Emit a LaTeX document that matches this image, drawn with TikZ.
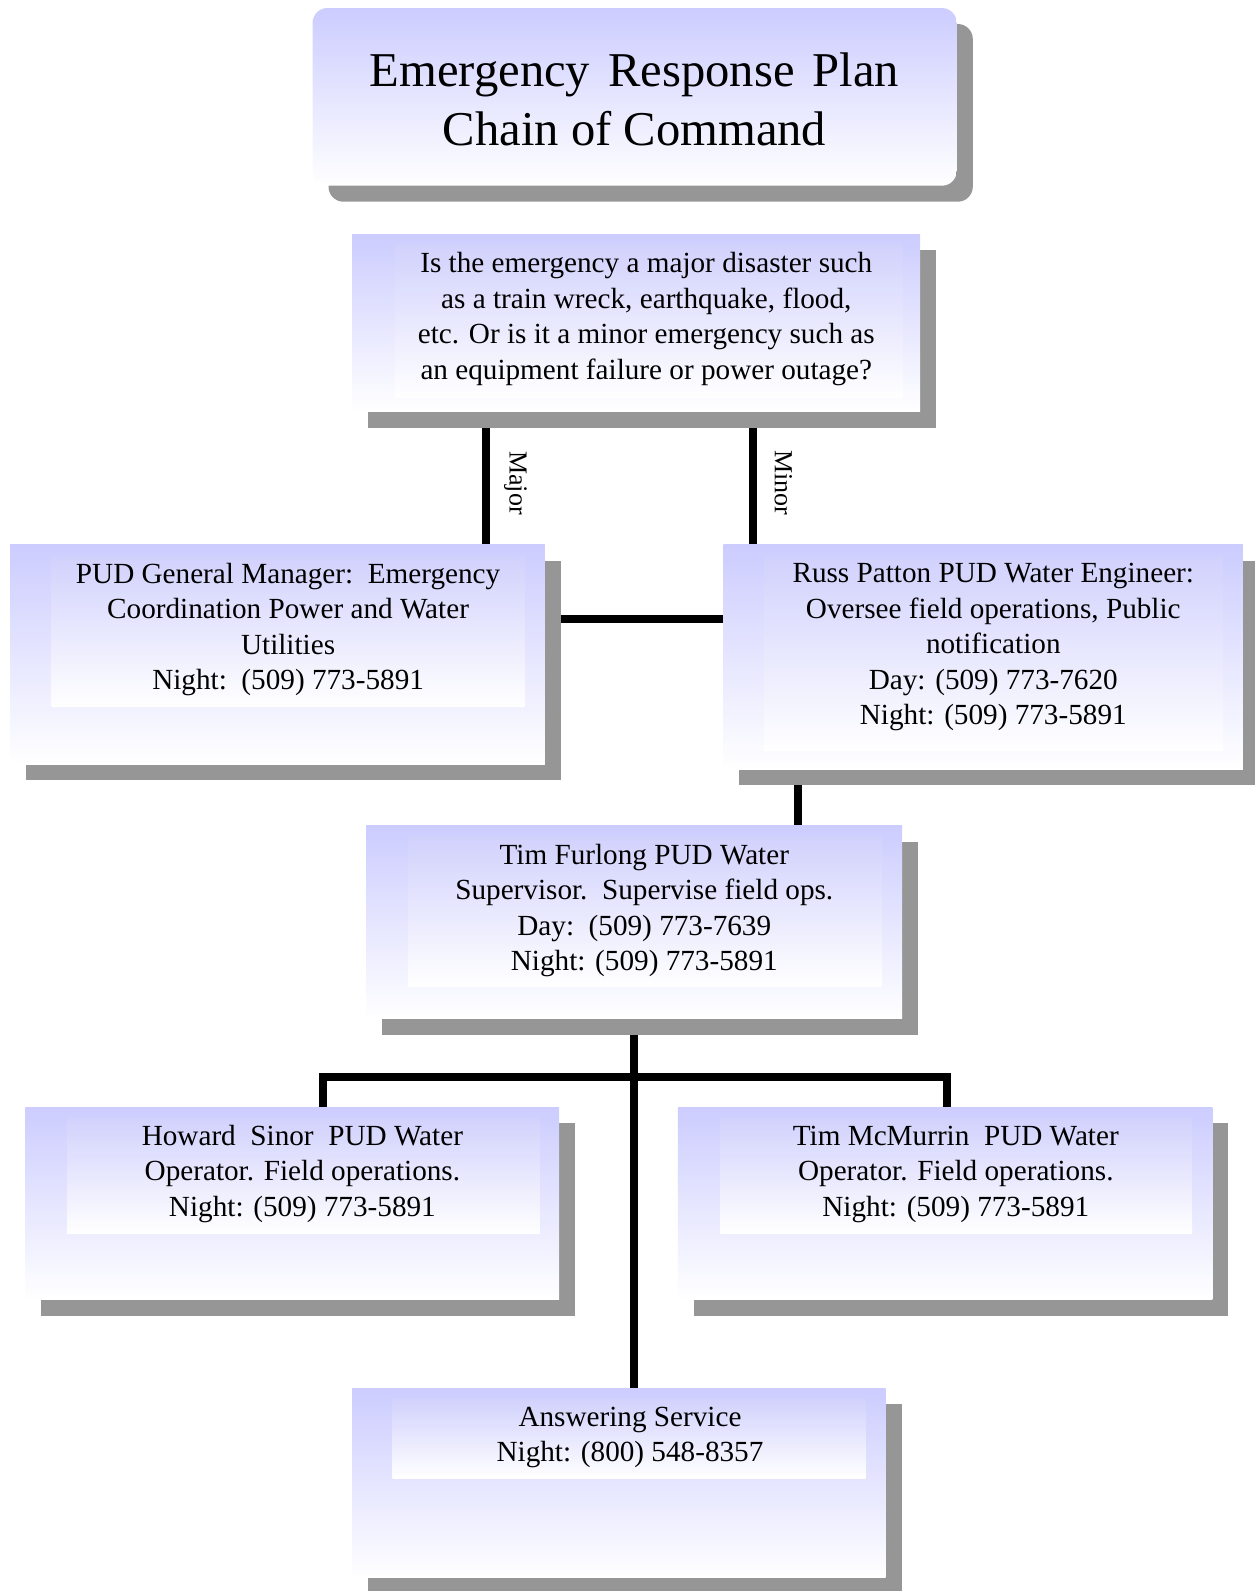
\documentclass[tikz,border=0pt]{standalone}
\usepackage{fontspec}
\setmainfont{Liberation Serif}
\usetikzlibrary{fit}
\definecolor{lav}{RGB}{204,204,255}
\definecolor{lavin}{RGB}{209,209,253}
\definecolor{shd}{RGB}{150,150,150}
\pgfdeclarelayer{bg}\pgfdeclarelayer{sh}\pgfsetlayers{bg,sh,main}
\begin{document}
\begin{tikzpicture}[x=0.5pt,y=-0.5pt,
  box/.style={inner sep=0pt, outer sep=0pt, draw=none, top color=lav, bottom color=white},
  inbox/.style={inner sep=0pt, outer sep=0pt, draw=none, top color=lavin, bottom color=white},
  txt/.style={inner sep=0pt, align=center, font=\fontsize{14.6}{17.75}\selectfont},
  lbl/.style={inner sep=0pt, rotate=-90, font=\fontsize{13}{15}\selectfont},
  conn/.style={line width=4pt, draw=black, line join=miter},
  shadowfill/.style={fill=shd, draw=none}]
\useasboundingbox (0,0) rectangle (1254,1591);

% title
\node[box, rounded corners=7.5pt, fit={(312.5,8) (956.8,185.7)}] (title) {};
\node[inner sep=0pt, align=center, font=\fontsize{24.3}{29.4}\selectfont] (titlet) at (634.5,99)
  {Emergency\hspace{3pt} Response\hspace{3pt} Plan\\Chain of Command};

% question
\node[box, fit={(352,234.4) (920.2,411.9)}] (q) {};
\node[inbox, fit={(395.7,243.5) (903,397.7)}] (qi) {};
\node[txt] (qt) at (646.3,319) {Is the emergency a major disaster such\\as a train wreck, earthquake, flood,\\etc. Or is it a minor emergency such as\\an equipment failure or power outage?};

% general manager
\node[box, fit={(10.1,544.8) (544.8,764)}] (gm) {};
\node[inbox, fit={(51.7,556) (524.5,706.2)}] (gmi) {};
\node[txt] (gmt) at (288.1,629.5) {PUD General Manager:\ \ Emergency\\Coordination Power and Water\\Utilities\\Night:\ \ (509) 773-5891};

% Russ Patton
\node[box, fit={(723.4,544.8) (1242.9,769)}] (rus) {};
\node[inbox, fit={(764,556) (1222.6,750.8)}] (rusi) {};
\node[txt] (rust) at (993.3,647.3) {Russ Patton PUD Water Engineer:\\Oversee field operations, Public\\notification\\Day: (509) 773-7620\\Night: (509) 773-5891};

% Tim Furlong
\node[box, fit={(366.3,825.9) (902,1018.7)}] (tim) {};
\node[inbox, fit={(407.9,836) (881.7,986.2)}] (timi) {};
\node[txt] (timt) at (644.3,910.5) {Tim Furlong PUD Water\\Supervisor.\ \ Supervise field ops.\\Day:\ \ (509) 773-7639\\Night: (509) 773-5891};

% Howard Sinor
\node[box, fit={(25.4,1107) (559,1299.7)}] (how) {};
\node[inbox, fit={(67,1117) (539.8,1233.8)}] (howi) {};
\node[txt] (howt) at (302.4,1174) {Howard\ \ Sinor\ \ PUD Water\\Operator. Field operations.\\Night: (509) 773-5891};

% Tim McMurrin
\node[box, fit={(677.8,1107) (1212.4,1299.7)}] (mcm) {};
\node[inbox, fit={(720.4,1117) (1192.2,1233.8)}] (mcmi) {};
\node[txt] (mcmt) at (955.8,1174) {Tim McMurrin\ \ PUD Water\\Operator. Field operations.\\Night: (509) 773-5891};

% Answering service
\node[box, fit={(352,1388) (885.7,1577.7)}] (ans) {};
\node[inbox, fit={(392.6,1398) (865.5,1478.3)}] (ansi) {};
\node[txt] (anst) at (630,1437.5) {Answering Service\\Night: (800) 548-8357};

% shadows
\begin{pgfonlayer}{sh}
  \fill[shadowfill, rounded corners=7.5pt] ([shift={(16,16)}]title.north west) rectangle ([shift={(16,16)}]title.south east);
  \foreach \n in {q,gm,rus,tim,how,mcm,ans}
    \fill[shadowfill] ([shift={(16,16)}]\n.north west) rectangle ([shift={(16,16)}]\n.south east);
\end{pgfonlayer}

% connectors
\coordinate (majx) at (486,0);
\coordinate (minx) at (752.8,0);
\coordinate (hy) at (0,618.9);
\coordinate (rx) at (797.5,0);
\coordinate (cx) at (634.1,0);
\coordinate (hl) at (322.6,1076.5);
\coordinate (hr) at (946.6,1076.5);
\begin{pgfonlayer}{bg}
  \draw[conn] (q.south -| majx) -- (gm.north -| majx);
  \draw[conn] (q.south -| minx) -- (rus.north -| minx);
  \draw[conn] (gm.east |- hy) -- (rus.west |- hy);
  \draw[conn] (rus.south -| rx) -- (tim.north -| rx);
  \draw[conn] (tim.south -| cx) -- (ans.north -| cx);
  \draw[conn] (how.north -| hl) -- (hl) -- (hr) -- (mcm.north -| hr);
\end{pgfonlayer}
\node[lbl] (major) at (515.4,483) {Major};
\node[lbl] (minor) at (783.3,483) {Minor};
\end{tikzpicture}
\end{document}
